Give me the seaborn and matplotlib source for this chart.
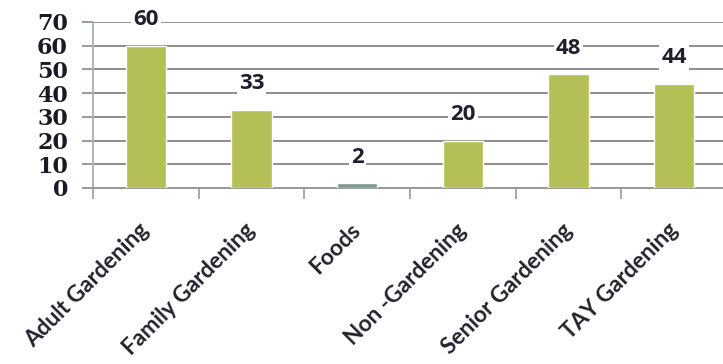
import matplotlib
matplotlib.use("Agg")
import matplotlib.pyplot as plt
import seaborn as sns
import pandas as pd
from matplotlib.ticker import FixedLocator, MultipleLocator

programs = ["Adult Gardening", "Family Gardening", "Foods", "Non -Gardening",
            "Senior Gardening", "TAY Gardening"]
participants = [60, 33, 2, 20, 48, 44]
bar_colors = ["#b4c057", "#b4c057", "#7f978c", "#b4c057", "#b4c057", "#b4c057"]

df = pd.DataFrame({"program": programs, "participants": participants})

sns.set_theme(style="white")
plt.rcParams["font.family"] = ["Lato", "DejaVu Sans"]

fig = plt.figure(figsize=(7.23, 3.64), dpi=100)
ax = fig.add_axes([93 / 723, 176 / 364, 634 / 723, 166 / 364])

sns.barplot(data=df, x="program", y="participants", hue="program",
            palette=bar_colors, width=0.38, legend=False, ax=ax, zorder=3,
            saturation=1)

ax.set_xlim(-0.5, len(programs) - 0.5)
ax.set_ylim(0, 70)
ax.yaxis.set_major_locator(MultipleLocator(10))
ax.yaxis.grid(True, color="#8e8e8e", linewidth=1.4, zorder=0)
ax.set_axisbelow(True)
ax.set_xlabel("")
ax.set_ylabel("")

for side in ["top", "right"]:
    ax.spines[side].set_visible(False)
ax.spines["left"].set_color("#a8b6c6")
ax.spines["left"].set_linewidth(1.4)
ax.spines["bottom"].set_color("#9a9a9a")
ax.spines["bottom"].set_linewidth(1.4)

# y ticks extend left of the axis like the gridlines
ax.tick_params(axis="y", which="major", left=True, length=8, width=1.4,
               color="#9a9a9a", pad=10)
for lbl in ax.get_yticklabels():
    lbl.set_fontfamily("DejaVu Serif")
    lbl.set_fontweight("bold")
    lbl.set_fontsize(16)
    lbl.set_color("#1a1a24")

# category boundary ticks on the x axis
ax.xaxis.set_minor_locator(FixedLocator([i - 0.5 for i in range(len(programs) + 1)]))
ax.tick_params(axis="x", which="minor", bottom=True, length=8, width=1.2,
               color="#9a9a9a")
ax.tick_params(axis="x", which="major", bottom=False, length=0, pad=28)
ax.set_xticks(range(len(programs)))
ax.set_xticklabels(programs, rotation=45, ha="right", va="center",
                   rotation_mode="anchor", fontsize=16.3, fontweight="bold",
                   color="#22222c")

for i, v in enumerate(participants):
    ax.annotate(str(v), (i, v), xytext=(0, 11), textcoords="offset points",
                ha="center", va="bottom", fontsize=16, fontweight="bold",
                fontfamily="Open Sans", color="#20202c", zorder=5,
                bbox=dict(boxstyle="square,pad=0.1", fc="white", ec="none"))

fig.savefig("out.png", dpi=100, facecolor="white")
